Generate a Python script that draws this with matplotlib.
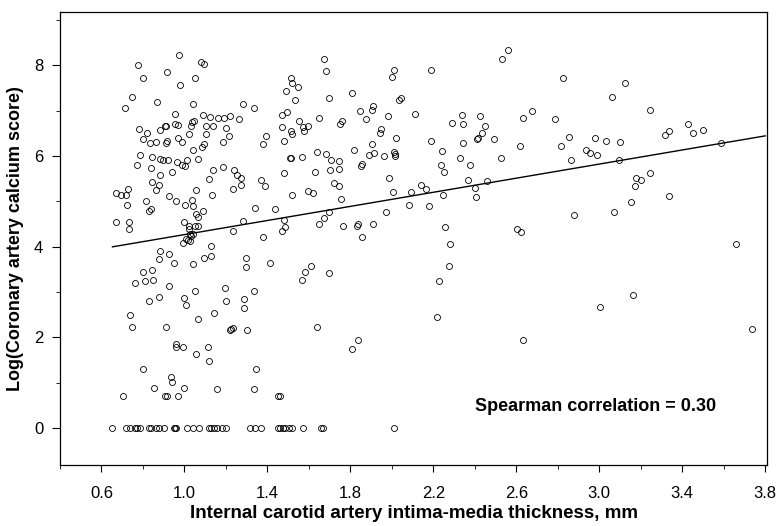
import matplotlib
matplotlib.use("Agg")
import matplotlib.pyplot as plt
import numpy as np
from matplotlib.ticker import MultipleLocator

plt.rcParams["font.family"] = ["Liberation Sans", "DejaVu Sans"]

# subjects with a calcium score > 0: IMT (mm) and log(CAC score)
imt_mm = [
    0.973, 0.775, 1.080, 1.093, 0.918, 0.799, 1.051, 0.981, 0.749, 0.868,
    0.714, 1.040, 0.953, 1.088, 1.125, 1.164, 1.190, 1.218, 0.783, 0.820,
    0.799, 0.835, 0.862, 0.881, 0.904, 0.913, 0.918, 0.913, 0.955, 0.969,
    0.969, 0.987, 1.024, 1.037, 1.045, 1.032, 1.103, 1.138, 1.198, 1.217,
    1.104, 1.096, 1.084, 1.186, 1.043, 1.064, 0.785, 0.772, 0.844, 0.884,
    0.896, 0.920, 0.963, 0.987, 1.005, 1.010, 0.839, 1.138, 1.186, 0.884,
    0.941,
    0.843, 0.876, 0.863, 1.058, 1.135, 1.117, 0.672, 0.692, 0.717, 0.729,
    0.725, 0.814, 0.838, 0.831, 0.924, 0.958, 1.002, 1.037, 1.042, 1.055,
    1.066, 1.088, 1.051, 1.064, 0.998, 1.021, 1.024, 1.026, 1.034, 1.042,
    1.006, 1.019, 0.992, 1.027, 0.672, 0.732, 0.733, 0.884, 0.926, 0.876,
    0.950, 1.043, 1.093, 1.127, 1.127, 0.801, 0.843, 0.764, 0.809, 0.847,
    0.924, 0.831, 0.875, 0.998, 1.008, 1.050, 1.194, 1.199, 0.737, 0.748,
    0.913, 1.063, 1.141, 1.218, 0.961,
    0.961, 0.994, 1.112, 1.055, 1.120, 0.802, 0.933, 0.939, 0.855, 1.000,
    1.156, 0.704, 0.905, 0.918, 0.971,
    1.671, 1.681, 1.512, 1.519, 1.549, 1.488, 1.535, 1.696, 1.810, 2.012,
    1.999, 2.043, 2.033, 1.284, 1.337, 1.263, 1.471, 1.496, 1.553, 1.647,
    1.845, 1.874, 1.911, 1.906, 1.983, 2.112, 1.760, 1.749, 1.471, 1.516,
    1.517, 1.570, 1.574, 1.596, 1.395, 1.379, 1.479, 1.949, 1.944, 2.021,
    1.903, 1.818, 1.888, 1.914, 1.961, 2.012, 2.017, 2.014, 1.509, 1.514,
    1.567, 1.641, 1.681, 1.705, 1.744, 1.744, 1.700, 1.631, 1.854, 1.849,
    1.479, 1.238, 1.254,
    1.273, 1.275, 1.233, 1.367, 1.387, 1.721, 1.744, 1.594, 1.620, 1.520,
    1.755, 1.988, 2.006, 2.091, 2.083, 1.973, 1.341, 1.435, 1.281, 1.233,
    1.480, 1.483, 1.471, 1.377, 1.699, 1.673, 1.651, 1.766, 1.835, 1.834,
    1.911, 1.855, 1.299, 1.297, 1.411, 1.612, 1.580, 1.567, 1.699, 1.336,
    1.289, 1.286, 1.225, 1.236, 1.302, 1.638, 1.835,
    1.808, 1.345, 1.335, 1.450, 1.459,
    2.558, 2.529, 2.189, 2.827, 2.674, 2.632, 2.338, 2.425, 2.292, 2.343,
    2.785, 2.449, 2.436, 2.415, 2.410, 2.492, 2.187, 2.343, 2.240, 2.618,
    2.814, 2.852, 2.936, 2.953, 2.987, 2.329, 2.525, 2.862, 2.238, 2.375,
    2.251,
    2.141, 2.165, 2.247, 2.178, 2.365, 2.401, 2.404, 2.457, 2.878, 2.255,
    2.605, 2.621, 2.279, 2.276, 2.228, 2.216, 2.634, 3.002,
    3.124, 3.060, 3.243, 3.318, 3.337, 3.429, 3.450, 3.501, 2.981, 3.032,
    3.100, 3.093, 3.588, 3.246,
    3.177, 3.201, 3.174, 3.151, 3.072, 3.334, 3.660, 3.162, 3.737,
]
log_cac = [
    8.23, 8.01, 8.06, 8.02, 7.86, 7.71, 7.71, 7.56, 7.29, 7.18,
    7.06, 7.15, 6.92, 6.90, 6.86, 6.84, 6.84, 6.89, 6.60, 6.50,
    6.38, 6.29, 6.30, 6.57, 6.65, 6.67, 6.34, 6.28, 6.70, 6.69,
    6.40, 6.31, 6.48, 6.75, 6.77, 6.67, 6.65, 6.66, 6.62, 6.45,
    6.49, 6.26, 6.19, 6.31, 6.14, 5.94, 6.01, 5.80, 5.98, 5.94,
    5.90, 5.91, 5.86, 5.79, 5.78, 5.92, 5.73, 5.68, 5.76, 5.59,
    5.65,
    5.43, 5.37, 5.26, 5.24, 5.15, 5.50, 5.18, 5.15, 5.13, 5.28,
    4.92, 5.01, 4.82, 4.79, 5.11, 5.01, 4.93, 5.04, 4.90, 4.73,
    4.65, 4.79, 4.46, 4.46, 4.54, 4.46, 4.38, 4.29, 4.24, 4.27,
    4.18, 4.14, 4.08, 4.12, 4.54, 4.54, 4.40, 3.91, 3.84, 3.74,
    3.64, 3.62, 3.75, 3.79, 4.01, 3.44, 3.49, 3.19, 3.24, 3.27,
    3.14, 2.81, 2.89, 2.87, 2.72, 3.03, 3.08, 2.81, 2.50, 2.22,
    2.22, 2.41, 2.53, 2.16, 1.85,
    1.78, 1.78, 1.78, 1.63, 1.49, 1.31, 1.12, 1.01, 0.88, 0.88,
    0.87, 0.70, 0.70, 0.70, 0.70,
    8.13, 7.88, 7.71, 7.61, 7.51, 7.44, 7.23, 7.28, 7.38, 7.90,
    7.75, 7.27, 7.24, 7.14, 7.06, 6.82, 6.91, 6.96, 6.78, 6.84,
    6.99, 6.81, 7.11, 7.02, 6.88, 6.92, 6.77, 6.71, 6.64, 6.54,
    6.48, 6.63, 6.55, 6.67, 6.45, 6.26, 6.32, 6.60, 6.51, 6.40,
    6.26, 6.13, 6.01, 6.06, 5.99, 6.09, 6.05, 5.99, 5.95, 5.95,
    5.98, 6.09, 6.05, 5.92, 5.89, 5.71, 5.68, 5.65, 5.83, 5.77,
    5.63, 5.68, 5.59,
    5.52, 5.36, 5.28, 5.48, 5.34, 5.40, 5.34, 5.22, 5.18, 5.14,
    5.06, 5.51, 5.21, 5.21, 4.93, 4.77, 4.85, 4.83, 4.57, 4.35,
    4.58, 4.43, 4.35, 4.21, 4.77, 4.63, 4.51, 4.45, 4.51, 4.46,
    4.49, 4.22, 3.75, 3.56, 3.65, 3.58, 3.45, 3.27, 3.41, 3.02,
    2.85, 2.65, 2.18, 2.21, 2.16, 2.22, 1.95,
    1.75, 1.31, 0.87, 0.70, 0.70,
    8.33, 8.14, 7.89, 7.71, 6.98, 6.84, 6.90, 6.88, 6.73, 6.70,
    6.81, 6.65, 6.50, 6.40, 6.37, 6.37, 6.32, 6.29, 6.12, 6.21,
    6.22, 6.42, 6.13, 6.07, 6.01, 5.95, 5.95, 5.91, 5.80, 5.79,
    5.64,
    5.35, 5.28, 5.13, 4.89, 5.48, 5.29, 5.09, 5.44, 4.69, 4.43,
    4.39, 4.32, 4.05, 3.58, 3.24, 2.45, 1.95, 2.67,
    7.60, 7.31, 7.01, 6.47, 6.56, 6.70, 6.51, 6.58, 6.40, 6.34,
    6.30, 5.90, 6.28, 5.63,
    5.52, 5.48, 5.33, 4.98, 4.77, 5.12, 4.05, 2.94, 2.18,
]

# subjects with a calcium score of 0 (log value plotted at 0)
imt_zero_cac = [
    0.653, 0.720, 0.737, 0.761, 0.772, 0.785, 0.828, 0.841, 0.863, 0.876,
    0.900, 0.949, 0.955, 0.961, 1.013, 1.042, 1.069, 1.117, 1.129, 1.141,
    1.157, 1.182, 1.201, 1.317, 1.341, 1.367, 1.450, 1.462, 1.474, 1.487,
    1.503, 1.519, 1.572, 1.660, 1.667, 2.012,
]

# fitted line as drawn in the figure
fit_intercept = 3.49
fit_slope = 0.777
spearman_r = 0.30

x = np.concatenate([imt_mm, imt_zero_cac])
y = np.concatenate([log_cac, np.zeros(len(imt_zero_cac))])

fig = plt.figure(figsize=(7.79, 5.26), dpi=100)
ax = fig.add_axes([0.077, 0.116, 0.908, 0.861])

ax.plot(x, y, "o", mfc="none", mec="black", ms=4.3, mew=0.6)

x_fit = np.array([x.min(), 3.8])
ax.plot(x_fit, fit_intercept + fit_slope * x_fit, color="black", lw=1.0)

ax.set_xlim(0.4, 3.81)
ax.set_ylim(-0.81, 9.17)
ax.xaxis.set_minor_locator(MultipleLocator(0.2))
ax.yaxis.set_major_locator(MultipleLocator(2))
ax.yaxis.set_minor_locator(MultipleLocator(1))
xt = np.arange(0.6, 3.81, 0.4)
ax.set_xticks(xt)
ax.set_xticklabels([f"{v:.1f}" for v in xt])
ax.tick_params(axis="x", which="major", length=5, width=0.8, pad=10, labelsize=12)
ax.tick_params(axis="y", which="major", length=6, width=0.8, pad=6, labelsize=12)
ax.tick_params(which="minor", length=3, width=0.6)
for s in ax.spines.values():
    s.set_linewidth(0.9)

ax.set_xlabel("Internal carotid artery intima-media thickness, mm",
              fontsize=13.5, fontweight="bold", labelpad=3)
ax.set_ylabel("Log(Coronary artery calcium score)",
              fontsize=13, fontweight="bold", labelpad=7)

ax.text(2.40, 0.48, f"Spearman correlation = {spearman_r:.2f}",
        fontsize=13, fontweight="bold", va="center", ha="left")

fig.savefig("out.png", dpi=100)
